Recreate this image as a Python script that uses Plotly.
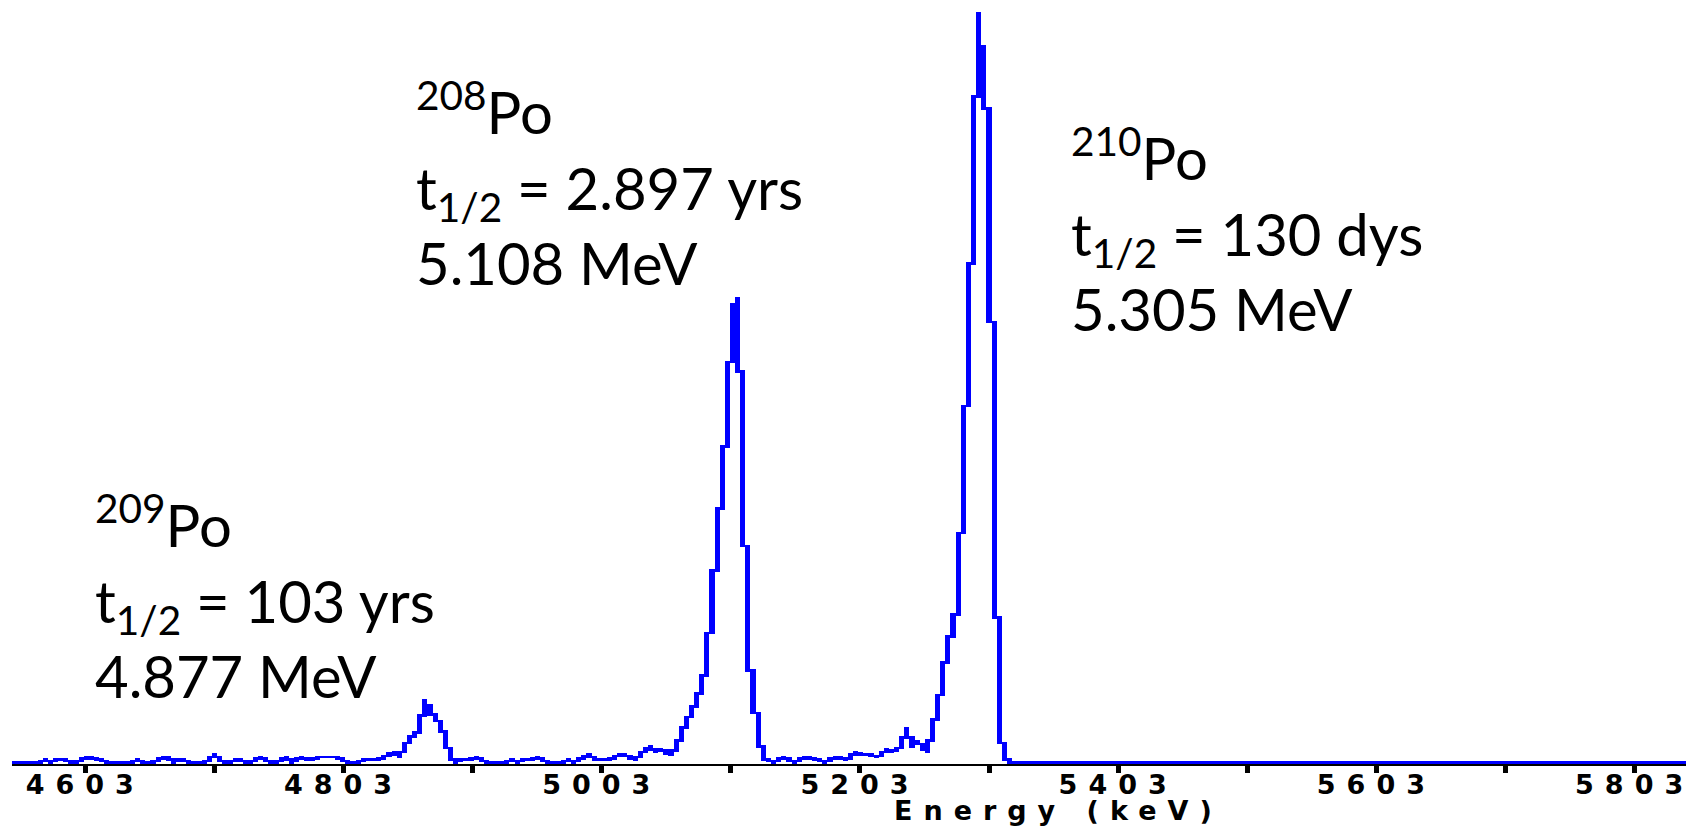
import plotly.graph_objects as go

# MCA calibration: channel 0 lower edge and keV per channel
E_START = 4546.24
KEV_PER_CH = 3.972

# Counts per channel (alpha spectrum of a Po source mix)
counts = [
    0, 0, 0, 0, 0, 0, 1, 0, 1, 1, 1, 0, 0, 1, 2, 2, 1, 1, 0, 0,
    0, 0, 0, 0, 1, 0, 0, 0, 1, 2, 2, 0, 1, 1, 0, 0, 0, 0, 1, 3,
    1, 0, 0, 1, 1, 0, 0, 1, 2, 1, 0, 0, 1, 2, 0, 1, 2, 1, 1, 2,
    2, 2, 2, 2, 1, 0, 0, 0, 1, 1, 1, 1, 2, 3, 4, 2, 6, 9, 11, 12,
    24, 20, 17, 15, 9, 2, 0, 1, 1, 1, 2, 1, 0, 0, 0, 0, 0, 1, 0, 1,
    1, 1, 2, 1, 0, 0, 0, 0, 1, 0, 1, 2, 3, 1, 1, 1, 1, 2, 3, 3,
    2, 1, 3, 5, 6, 4, 5, 4, 3, 6, 11, 16, 19, 24, 29, 38, 62, 86, 110, 134,
    175, 179, 123, 44, 27, 11, 1, 1, 0, 1, 2, 1, 0, 1, 2, 2, 1, 1, 0, 1,
    2, 2, 1, 2, 4, 3, 3, 3, 2, 3, 5, 4, 5, 6, 13, 6, 8, 6, 4, 13,
    20, 32, 45, 52, 62, 115, 160, 225, 289, 264, 241, 99, 13, 2,
    0, 0, 0, 0, 0, 0, 0, 0, 0, 0, 0, 0, 0, 0, 0, 0, 0, 0, 0, 0,
    0, 0, 0, 0, 0, 0, 0, 0, 0, 0, 0, 0, 0, 0, 0, 0, 0, 0, 0, 0,
    0, 0, 0, 0, 0, 0, 0, 0, 0, 0, 0, 0, 0, 0, 0, 0, 0, 0, 0, 0,
    0, 0, 0, 0, 0, 0, 0, 0, 0, 0, 0, 0, 0, 0, 0, 0, 0, 0, 0, 0,
    0, 0, 0, 0, 0, 0, 0, 0, 0, 0, 0, 0, 0, 0, 0, 0, 0, 0, 0, 0,
    0, 0, 0, 0, 0, 0, 0, 0, 0, 0, 0, 0, 0, 0, 0, 0, 0, 0, 0, 0,
    0, 0, 0, 0, 0, 0, 0, 0, 0, 0, 0, 0, 0,
]

tick_vals = [4603, 4703, 4803, 4903, 5003, 5103, 5203, 5303, 5403, 5503, 5603, 5703, 5803]
tick_labels = ["4603", "", "4803", "", "5003", "", "5203", "", "5403", "", "5603", "", "5803"]

peak_labels = [
    ("<sup>209</sup>Po<br>t<sub>1/2</sub> = 103 yrs<br>4.877 MeV", 93, 711.6),
    ("<sup>208</sup>Po<br>t<sub>1/2</sub> = 2.897 yrs<br>5.108 MeV", 416, 298.6),
    ("<sup>210</sup>Po<br>t<sub>1/2</sub> = 130 dys<br>5.305 MeV", 1074, 344.6),
]

W, H = 1694, 828
ML, MR, MT, MB = 12, 0, 0, 64
PW, PH = W - ML - MR, H - MT - MB
PX_PER_KEV = 1.2973
PX_PER_COUNT = 2.59

x_lo = E_START
x_hi = E_START + PW / PX_PER_KEV
y_lo = -3 / PX_PER_COUNT
y_hi = y_lo + PH / PX_PER_COUNT

# Each channel is drawn as a one-count-thick trace segment spanning from the
# midpoint with its left neighbour, through its own level, to the midpoint
# with its right neighbour (the look of a low-resolution MCA display).
n = len(counts)
centers, bases, heights = [], [], []
for i, c in enumerate(counts):
    prev_c = counts[i - 1] if i > 0 else c
    next_c = counts[i + 1] if i < n - 1 else c
    left_mid = (prev_c + c) / 2
    right_mid = (c + next_c) / 2
    top = max(c, left_mid, right_mid)
    bottom = min(c, left_mid, right_mid) - 1
    centers.append(E_START + KEV_PER_CH * (i + 0.5))
    bases.append(bottom)
    heights.append(top - bottom)

fig = go.Figure(
    go.Bar(
        x=centers,
        y=heights,
        base=bases,
        width=KEV_PER_CH,
        marker=dict(color="#0000FF", line=dict(width=0)),
        hoverinfo="skip",
    )
)

SPACED = '<span style="letter-spacing:11px">{}</span>'
AXIS_FONT = dict(family="DejaVu Sans", size=27, color="black", weight="bold")

fig.update_xaxes(
    range=[x_lo, x_hi],
    tickmode="array",
    tickvals=tick_vals,
    ticktext=[SPACED.format(t) if t else "" for t in tick_labels],
    ticks="outside",
    ticklen=7,
    tickwidth=5,
    tickcolor="black",
    tickfont=AXIS_FONT,
    ticklabeloverflow="allow",
    ticklabelstandoff=-11,
    showline=True,
    linecolor="black",
    linewidth=2,
    showgrid=False,
    zeroline=False,
)
fig.update_yaxes(
    range=[y_lo, y_hi],
    visible=False,
    showgrid=False,
    zeroline=False,
)

annotations = []
for text, px, py in peak_labels:
    annotations.append(dict(
        text=text,
        xref="paper", yref="paper",
        x=(px - ML) / PW, y=(H - MB - py) / PH,
        xanchor="left", yanchor="bottom", align="left",
        showarrow=False,
        font=dict(family="Lato", size=58, color="black"),
    ))
annotations.append(dict(
    text=SPACED.format("Energy (keV)"),
    xref="paper", yref="paper",
    x=(1064 - ML) / PW, y=(H - MB - 828) / PH,
    xanchor="center", yanchor="bottom",
    showarrow=False,
    font=AXIS_FONT,
))

fig.update_layout(
    width=W, height=H,
    margin=dict(l=ML, r=MR, t=MT, b=MB, pad=0),
    paper_bgcolor="white",
    plot_bgcolor="white",
    bargap=0,
    showlegend=False,
    annotations=annotations,
)

fig.write_html("out.html", config={"displayModeBar": False})
